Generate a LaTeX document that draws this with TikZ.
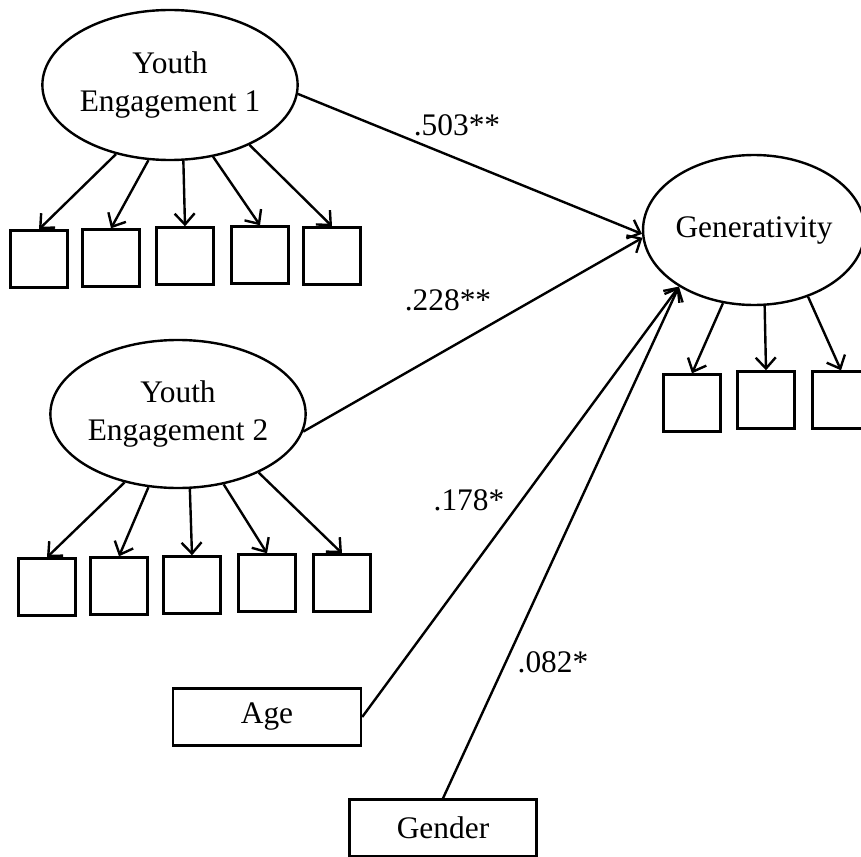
\documentclass[tikz,border=0pt]{standalone}
\usepackage{fontspec}
\setmainfont{Liberation Serif}
\usetikzlibrary{shapes.geometric,arrows.meta}

\begin{document}
\begin{tikzpicture}[x=0.5pt, y=-0.5pt, line width=1.2pt,
    every node/.style={font=\fontsize{15.7}{19}\selectfont},
    latent/.style={ellipse, draw, inner sep=0pt, minimum width=105pt, minimum height=75pt, align=center},
    item/.style={rectangle, draw, minimum size=28.5pt, inner sep=0pt},
    covar/.style={rectangle, draw, minimum width=94pt, minimum height=28.5pt, inner sep=0pt},
    arr/.style={-{Straight Barb[length=5.5pt,width=10pt]}}]
    % page area
    \useasboundingbox (0,0) rectangle (861,856);
    % latent variables
    \node (ye1) [latent] at (170,85) {Youth\\Engagement 1};
    \node (ye2) [latent, minimum width=103pt, minimum height=74pt] at (178,414) {Youth\\Engagement 2};
    \node (gen) [latent, minimum width=106pt] at (754,230) {Generativity};
    % indicators
    \node (a1) [item] at (39,259) {};
    \node (a2) [item] at (111,258) {};
    \node (a3) [item] at (185,256) {};
    \node (a4) [item] at (260,255) {};
    \node (a5) [item] at (332,256) {};
    \node (b1) [item] at (47,587) {};
    \node (b2) [item] at (119,586) {};
    \node (b3) [item] at (192,585) {};
    \node (b4) [item] at (267,583) {};
    \node (b5) [item] at (342,583) {};
    \node (g1) [item] at (692,403) {};
    \node (g2) [item] at (766,400) {};
    \node (g3) [item] at (841,400) {};
    % covariates
    \node (age) [covar] at (267,717) {Age};
    \node (gender) [covar, minimum width=93.5pt] at (443,828) {Gender};
    % measurement arrows
    \draw[arr] (ye1.232) -- (a1.north);
    \draw[arr] (ye1.254) -- (a2.north);
    \draw[arr] (ye1.280) -- (a3.north);
    \draw[arr] (ye1.301) -- (a4.north);
    \draw[arr] (ye1.323) -- (a5.north);
    \draw[arr] (ye2.232) -- (b1.north);
    \draw[arr] (ye2.248) -- (b2.north);
    \draw[arr] (ye2.279) -- (b3.north);
    \draw[arr] (ye2.303) -- (b4.north);
    \draw[arr] (ye2.324) -- (b5.north);
    \draw[arr] (gen.247) -- (g1.north);
    \draw[arr] (gen.278) -- (g2.north);
    \draw[arr] (gen.309) -- (g3.north);
    % structural paths
    \draw[arr] (ye1.356) -- (gen.182);
    \draw[arr] (ye2.352) -- (gen.184);
    \draw[arr] (age.east) -- (gen.217);
    \draw[arr] (gender.north) -- (gen.217);
    % coefficients
    \node (c503) at (457,125) {.503**};
    \node (c228) at (448,300) {.228**};
    \node (c178) at (469,500) {.178*};
    \node (c082) at (553,662) {.082*};
\end{tikzpicture}
\end{document}
